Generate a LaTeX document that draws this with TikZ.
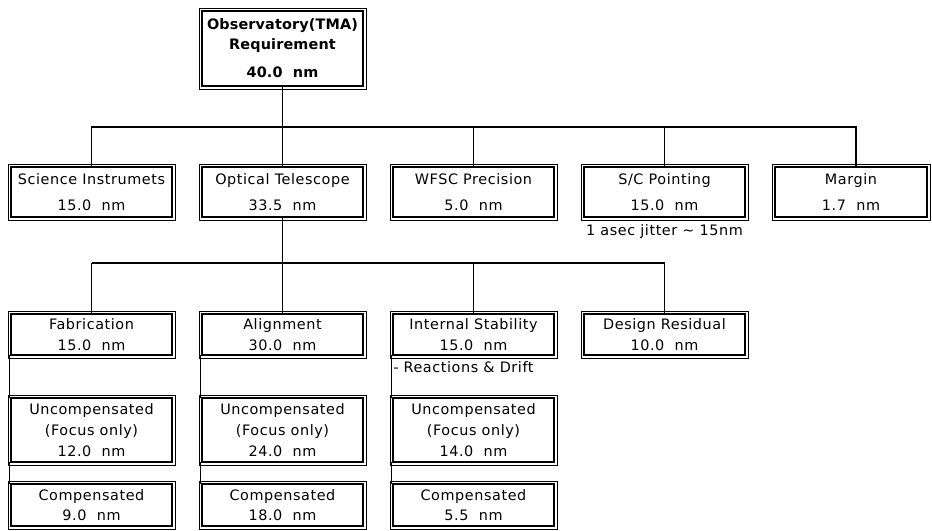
\documentclass[tikz,border=0pt]{standalone}
\usepackage{fontspec}
\setmainfont[LetterSpace=4]{DejaVu Sans}
\newfontfamily\boldface[LetterSpace=1]{DejaVu Sans Bold}
\begin{document}
\begin{tikzpicture}[x=0.75pt,y=-0.75pt,
  box/.style={draw, line width=1.5pt, inner sep=0pt, outer sep=0pt, minimum width=161*0.75pt, align=center, font=\fontsize{10.8}{15.5}\selectfont},
  frame/.style={draw, line width=0.6pt},
  conn/.style={line width=0.8pt},
  bus/.style={line width=1.3pt},
  note/.style={inner sep=0pt, font=\fontsize{10.8}{13}\selectfont}]
\useasboundingbox[fill=white] (0,0) rectangle (932,531);
% top
\node[box, minimum height=75*0.75pt, font=\boldface\fontsize{10.8}{14.5}\selectfont] (top) at (282.5,48.5) {Observatory(TMA)\\Requirement\\[7pt]40.0~~nm};
% level 2
\node[box, minimum height=50*0.75pt] (sci)  at (91.5,192)  {Science Instrumets\\[4pt]15.0~~nm};
\node[box, minimum height=50*0.75pt] (opt)  at (282.5,192) {Optical Telescope\\[4pt]33.5~~nm};
\node[box, minimum height=50*0.75pt] (wfsc) at (473.5,192) {WFSC Precision\\[4pt]5.0~~nm};
\node[box, minimum height=50*0.75pt] (sc)   at (664.5,192) {S/C Pointing\\[4pt]15.0~~nm};
\node[box, minimum height=50*0.75pt, minimum width=152*0.75pt] (margin) at (851,192) {Margin\\[4pt]1.7~~nm};
\node[note, anchor=north] (jit) at (664.5,224) {1 asec jitter \textasciitilde{} 15nm};
% level 3
\node[box, minimum height=41*0.75pt] (fab)    at (91.5,334.5)  {Fabrication\\15.0~~nm};
\node[box, minimum height=41*0.75pt] (align)  at (282.5,334.5) {Alignment\\30.0~~nm};
\node[box, minimum height=41*0.75pt] (int)    at (473.5,334.5) {Internal Stability\\15.0~~nm};
\node[box, minimum height=41*0.75pt] (design) at (664.5,334.5) {Design Residual\\10.0~~nm};
\node[note, anchor=north west] (drift) at (393,361) {- Reactions \& Drift};
% level 4
\node[box, minimum height=64*0.75pt] (u1) at (91.5,430)  {Uncompensated\\(Focus only)\\12.0~~nm};
\node[box, minimum height=64*0.75pt] (u2) at (282.5,430) {Uncompensated\\(Focus only)\\24.0~~nm};
\node[box, minimum height=64*0.75pt] (u3) at (473.5,430) {Uncompensated\\(Focus only)\\14.0~~nm};
% level 5
\node[box, minimum height=42*0.75pt] (c1) at (91.5,505)  {Compensated\\9.0~~nm};
\node[box, minimum height=42*0.75pt] (c2) at (282.5,505) {Compensated\\18.0~~nm};
\node[box, minimum height=42*0.75pt] (c3) at (473.5,505) {Compensated\\5.5~~nm};
% outer frames
\foreach \n in {top,sci,opt,wfsc,sc,margin,fab,align,int,design,u1,u2,u3,c1,c2,c3}
  \draw[frame] ([shift={(-3,-3)}]\n.north west) rectangle ([shift={(3,3)}]\n.south east);
% level-2 connectors
\coordinate (b2l) at (91.5,127);
\coordinate (b2r) at (856,127);
\draw[conn] (top.south) -- (opt.north);
\draw[conn] (sci.north) -- (sci.north |- b2l) -- (b2r) -- (b2r |- margin.north);
\draw[conn] (wfsc.north) -- (wfsc.north |- b2l);
\draw[conn] (sc.north) -- (sc.north |- b2l);
% level-3 connectors
\coordinate (b3l) at (91.5,263);
\draw[conn] (opt.south) -- (align.north);
\draw[bus] (fab.north |- b3l) -- (design.north |- b3l);
\draw[conn] (fab.north) -- (fab.north |- b3l);
\draw[conn] (int.north) -- (int.north |- b3l);
\draw[conn] (design.north) -- (design.north |- b3l);
% left-side chains
\draw[conn] ([xshift=-1]fab.south west) -- ([xshift=-1]u1.north west);
\draw[conn] ([xshift=-1]u1.south west) -- ([xshift=-1]c1.north west);
\draw[conn] ([xshift=-1]align.south west) -- ([xshift=-1]u2.north west);
\draw[conn] ([xshift=-1]u2.south west) -- ([xshift=-1]c2.north west);
\draw[conn] ([xshift=-1]int.south west) -- ([xshift=-1]u3.north west);
\draw[conn] ([xshift=-1]u3.south west) -- ([xshift=-1]c3.north west);
\end{tikzpicture}
\end{document}
